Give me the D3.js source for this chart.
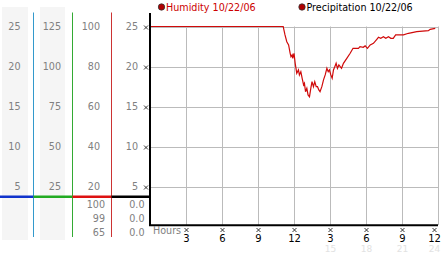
<!DOCTYPE html>
<html>
<head>
<meta charset="utf-8">
<script src="https://cdn.jsdelivr.net/npm/d3@7"></script>
<style>
body { margin: 0; background: #fff; }
svg { display: block; font-family: "DejaVu Sans", Verdana, sans-serif; }
</style>
</head>
<body>
<div id="chart"></div>
<script>
// humidity readings, 10/22/06 (hour of day, percent)
var hours = [0, 11.1, 11.25, 11.4, 11.55, 11.68, 11.75, 11.85, 11.9, 12.0, 12.1, 12.23, 12.37, 12.45, 12.57,
	12.68, 12.8, 12.87, 12.96, 13.07, 13.17, 13.29, 13.4, 13.5, 13.62, 13.73, 13.85, 13.96, 14.07, 14.17,
	14.32, 14.46, 14.6, 14.74, 14.85, 14.95, 15.07, 15.18, 15.29, 15.4, 15.51, 15.62, 15.74, 15.85, 15.96,
	16.12, 16.4, 16.68, 16.92, 17.37, 17.5, 17.77, 17.93, 18.12, 18.35, 18.62, 18.9, 19.04, 19.23, 19.45,
	19.65, 19.87, 20.07, 20.27, 20.47, 21.12, 21.54, 22.23, 23.2, 23.35, 23.77];
var humidity = [100, 100, 95.8, 92.4, 90.8, 86.6, 84.9, 85.8, 84.1, 86.6, 81.6, 76.6, 78.3, 75.8, 77.4,
	74.1, 70.8, 71.6, 67.4, 69.1, 65.8, 64.9, 69.1, 72.4, 69.9, 72.4, 69.9, 69.9, 68.3, 67.4,
	69.9, 73.3, 75.8, 79.1, 77.4, 78.3, 75.8, 74.1, 78.3, 79.9, 81.6, 79.1, 80.8, 79.9, 79.1,
	81.6, 84.1, 86.6, 89.1, 89.1, 89.9, 89.6, 90.3, 89.1, 90.8, 91.6, 93.6, 94.6, 94.1, 94.9,
	94.1, 94.9, 94.1, 94.1, 95.8, 95.8, 96.6, 97.4, 97.9, 98.6, 99.1];

var hourTicks = [3, 6, 9, 12, 15, 18, 21, 24];
var hourLabels = ["3", "6", "9", "12", "3", "6", "9", "12"];
var hourLabels24 = ["", "", "", "", "15", "18", "21", "24"];

var col1Ticks = [5, 10, 15, 20, 25];
var col2Ticks = [25, 50, 75, 100, 125];
var col3Ticks = [20, 40, 60, 80, 100];
var col4Ticks = [5, 10, 15, 20, 25];
var humidityStats = ["100", "99", "65"];
var precipStats = ["0.0", "0.0", "0.0"];

var width = 442, height = 253;
var svg = d3.select("#chart").append("svg")
	.attr("width", width)
	.attr("height", height);

var x = d3.scaleLinear().domain([0, 24]).range([150, 438]);
var yTop = 26.5, yBottom = 226.5;
var yH = d3.scaleLinear().domain([0, 100]).range([yBottom, yTop]);
var yP = d3.scaleLinear().domain([0, 25]).range([yBottom, yTop]);

// left side value columns
svg.append("rect").attr("x", 2).attr("y", 7).attr("width", 26).attr("height", 233).attr("fill", "#f5f5f5");
svg.append("rect").attr("x", 40).attr("y", 7).attr("width", 25).attr("height", 233).attr("fill", "#f5f5f5");

var cols = [
	{ticks: col1Ticks, max: 25, right: 20.5},
	{ticks: col2Ticks, max: 125, right: 61},
	{ticks: col3Ticks, max: 100, right: 100},
	{ticks: col4Ticks, max: 25, right: 138}
];
cols.forEach(function (c) {
	var s = d3.scaleLinear().domain([0, c.max]).range([yBottom, yTop]);
	svg.append("g").selectAll("text")
		.data(c.ticks)
		.enter().append("text")
		.attr("x", c.right)
		.attr("y", function (d) { return s(d); })
		.attr("dy", "0.36em")
		.attr("text-anchor", "end")
		.style("font-size", "9.6px")
		.style("fill", "#808080")
		.text(function (d) { return d; });
});

var sep = [
	{x: 33.5, color: "#3399cc", bar: "#1033cc", x0: 0},
	{x: 72.5, color: "#33aa33", bar: "#22aa22", x0: 33.5},
	{x: 111.5, color: "#cc3333", bar: "#dd1111", x0: 72.5}
];
sep.forEach(function (s) {
	svg.append("line")
		.attr("x1", s.x).attr("x2", s.x)
		.attr("y1", 12.5).attr("y2", 237)
		.attr("stroke", s.color).attr("stroke-width", 1);
	svg.append("line")
		.attr("x1", s.x0).attr("x2", s.x)
		.attr("y1", 196.8).attr("y2", 196.8)
		.attr("stroke", s.bar).attr("stroke-width", 2.4);
});
svg.append("line")
	.attr("x1", 111.5).attr("x2", 150)
	.attr("y1", 196.8).attr("y2", 196.8)
	.attr("stroke", "#000").attr("stroke-width", 2.4);

// current / max / min rows
humidityStats.forEach(function (t, i) {
	svg.append("text")
		.attr("x", 105).attr("y", 204.3 + i * 14).attr("dy", "0.36em")
		.attr("text-anchor", "end")
		.style("font-size", "9.6px").style("fill", "#808080")
		.text(t);
});
precipStats.forEach(function (t, i) {
	svg.append("text")
		.attr("x", 144.5).attr("y", 204.3 + i * 14).attr("dy", "0.36em")
		.attr("text-anchor", "end")
		.style("font-size", "9.6px").style("fill", "#808080")
		.text(t);
});

// grid
svg.append("g").selectAll("line")
	.data(col4Ticks)
	.enter().append("line")
	.attr("x1", 150).attr("x2", 438)
	.attr("y1", function (d) { return Math.round(yP(d)) + 0.5; })
	.attr("y2", function (d) { return Math.round(yP(d)) + 0.5; })
	.attr("stroke", "#bbbbbb").attr("stroke-width", 1);
svg.append("g").selectAll("line")
	.data(hourTicks)
	.enter().append("line")
	.attr("x1", function (d) { return Math.round(x(d)) + 0.5; })
	.attr("x2", function (d) { return Math.round(x(d)) + 0.5; })
	.attr("y1", yTop).attr("y2", 225)
	.attr("stroke", "#bbbbbb").attr("stroke-width", 1);

// small tick marks
function tickMark(cx, cy) {
	svg.append("path")
		.attr("d", "M" + (cx - 2) + "," + (cy - 2) + "L" + (cx + 2) + "," + (cy + 2) +
			"M" + (cx + 2) + "," + (cy - 2) + "L" + (cx - 2) + "," + (cy + 2))
		.attr("stroke", "#222").attr("stroke-width", 0.9).attr("fill", "none");
}
col4Ticks.forEach(function (d) { tickMark(146, Math.round(yP(d)) + 0.5); });
hourTicks.forEach(function (d, i) { tickMark(Math.min(Math.round(x(d)) + 0.5, 434.5), 230); });

// humidity line
var pts = hours.map(function (h, i) { return [h, humidity[i]]; });
var line = d3.line()
	.x(function (d) { return x(d[0]); })
	.y(function (d) { return yH(d[1]); });
svg.append("path")
	.datum(pts)
	.attr("d", line)
	.attr("fill", "none")
	.attr("stroke", "#d00a0a")
	.attr("stroke-width", 1.2);

// axes
svg.append("line").attr("x1", 150).attr("x2", 150).attr("y1", 13).attr("y2", 226)
	.attr("stroke", "#000").attr("stroke-width", 2);
svg.append("line").attr("x1", 149).attr("x2", 438).attr("y1", 225.2).attr("y2", 225.2)
	.attr("stroke", "#000").attr("stroke-width", 2);

// hour labels (last one kept inside the frame)
function labelX(d) { return Math.min(Math.round(x(d)) + 0.5, 434.5); }
svg.append("text").attr("x", 153).attr("y", 233.5)
	.style("font-size", "9.6px").style("fill", "#808080").text("Hours");
svg.append("g").selectAll("text")
	.data(hourTicks)
	.enter().append("text")
	.attr("x", labelX)
	.attr("y", 241.5)
	.attr("text-anchor", "middle")
	.style("font-size", "10px").style("fill", "#000")
	.text(function (d, i) { return hourLabels[i]; });
svg.append("g").selectAll("text")
	.data(hourTicks)
	.enter().append("text")
	.attr("x", labelX)
	.attr("y", 251.5)
	.attr("text-anchor", "middle")
	.style("font-size", "9px").style("fill", "#e2e2e2")
	.text(function (d, i) { return hourLabels24[i]; });

// legend
var legend = [
	{x: 161.5, label: "Humidity 10/22/06", color: "#cc0000"},
	{x: 302, label: "Precipitation 10/22/06", color: "#000"}
];
legend.forEach(function (l) {
	svg.append("circle").attr("cx", l.x).attr("cy", 7).attr("r", 3.2)
		.attr("fill", "#b00000").attr("stroke", "#333").attr("stroke-width", 0.8);
	svg.append("text").attr("x", l.x + 4.5).attr("y", 10.5)
		.style("font-size", "9.6px").style("fill", l.color)
		.text(l.label);
});
</script>
</body>
</html>
